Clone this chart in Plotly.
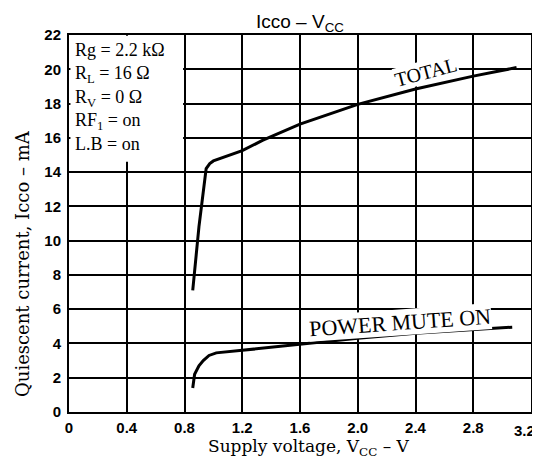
import plotly.graph_objects as go

# readings (V, mA)
total_v = [0.857, 0.9, 0.95, 0.975, 1.0, 1.2, 1.34, 1.6, 2.0, 2.4, 2.8, 3.1]
total_i = [7.1, 10.8, 14.2, 14.5, 14.65, 15.25, 15.85, 16.8, 17.95, 18.85, 19.6, 20.1]
mute_v = [0.857, 0.87, 0.9, 0.93, 0.97, 1.02, 1.2, 1.6, 2.0, 2.4, 2.8, 3.07]
mute_i = [1.4, 2.2, 2.7, 3.0, 3.3, 3.45, 3.6, 3.95, 4.3, 4.6, 4.8, 4.95]

x_ticks = [0, 0.4, 0.8, 1.2, 1.6, 2.0, 2.4, 2.8, 3.2]
x_labels = ["0", "0.4", "0.8", "1.2", "1.6", "2.0", "2.4", "2.8", "3.2"]
y_ticks = list(range(0, 23, 2))

conditions = [
    "Rg = 2.2 kΩ",
    "R<sub>L</sub> = 16 Ω",
    "R<sub>V</sub> = 0 Ω",
    "RF<sub>1</sub> = on",
    "L.B = on",
]

serif = "Liberation Serif"
wide_serif = "DejaVu Serif"
sans = "Liberation Sans"
tick_font = dict(family=sans, size=15, color="black", weight="bold")

fig = go.Figure()
for xs, ys in ((total_v, total_i), (mute_v, mute_i)):
    fig.add_trace(go.Scatter(
        x=xs, y=ys, mode="lines",
        line=dict(color="black", width=3),
        hoverinfo="skip", showlegend=False,
    ))

# white box holding the test conditions
fig.add_shape(type="rect", x0=0.01, x1=0.79, y0=14.6, y1=21.95,
              fillcolor="white", line=dict(width=0), layer="between")

fig.add_annotation(
    x=0.03, y=21.85, xanchor="left", yanchor="top", align="left",
    text="<br>".join(conditions), showarrow=False,
    font=dict(family=serif, size=18, color="black"),
)
fig.add_annotation(
    x=2.47, y=19.85, text="TOTAL", showarrow=False, textangle=-15,
    bgcolor="white", borderpad=0,
    font=dict(family=serif, size=20, color="black"),
)
fig.add_annotation(
    x=2.29, y=5.25, text="POWER MUTE ON", showarrow=False, textangle=-4,
    bgcolor="white", borderpad=0,
    font=dict(family=serif, size=22, color="black"),
)

# titles placed by hand (paper coords)
fig.add_annotation(
    xref="paper", yref="paper", x=0.5, y=1.07, xanchor="center", yanchor="top",
    text="Icco – V<sub>CC</sub>",
    showarrow=False, font=dict(family=sans, size=19, color="black"),
)
fig.add_annotation(
    xref="paper", yref="paper", x=0.519, y=-0.095, xanchor="center", yanchor="middle",
    text="Supply voltage, V<sub>CC</sub> – V",
    showarrow=False, font=dict(family=wide_serif, size=17, color="black"),
)
fig.add_annotation(
    xref="paper", yref="paper", x=-0.102, y=0.395, xanchor="center", yanchor="middle",
    textangle=-90, text="Quiescent current, Icco – mA",
    showarrow=False, font=dict(family=wide_serif, size=18, color="black"),
)
# last x tick label sits at the right edge, drawn right-aligned so it is not clipped
fig.add_annotation(
    x=x_ticks[-1], yref="paper", y=0, xanchor="right", yanchor="middle",
    xshift=6, yshift=-18, text=x_labels[-1], showarrow=False, font=tick_font,
)

# page body adds an 8px margin, so the figure is drawn smaller to fit the window
fig.update_layout(
    width=532, height=452,
    paper_bgcolor="white", plot_bgcolor="white",
    margin=dict(l=61, r=9, t=27, b=48, autoexpand=False),
    xaxis=dict(
        range=[0, 3.2], tickvals=x_ticks, ticktext=x_labels[:-1] + [""],
        showgrid=True, gridcolor="black", gridwidth=1.5, automargin=False,
        zeroline=False, showline=True, linecolor="black", linewidth=2, mirror=True,
        ticks="", ticklabelstandoff=1, tickfont=tick_font,
    ),
    yaxis=dict(
        range=[0, 22], tickvals=y_ticks, automargin=False,
        showgrid=True, gridcolor="black", gridwidth=1.5,
        zeroline=False, showline=True, linecolor="black", linewidth=2, mirror=True,
        ticks="", ticklabelstandoff=3, tickfont=tick_font,
    ),
)

fig.write_html("out.html")
